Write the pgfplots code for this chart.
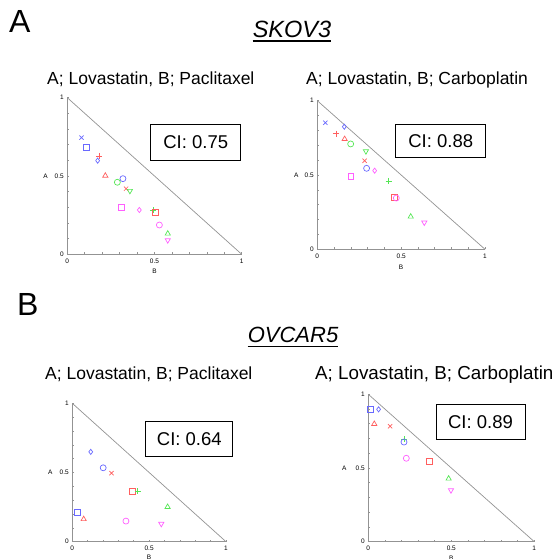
\documentclass[border=0pt]{standalone}
\usepackage{pgfplots}
\pgfplotsset{compat=1.18}
\usepackage{fontspec}
\setmainfont{Liberation Sans}
\definecolor{cb}{RGB}{105,105,255}
\definecolor{cr}{RGB}{255,95,95}
\definecolor{cg}{RGB}{85,230,85}
\definecolor{cm}{RGB}{255,95,255}
\pgfplotsset{
  ci/.style={scale only axis, anchor=south west, clip=false,
    xmin=0,xmax=1,ymin=0,ymax=1,
    axis lines=left, axis line style={-, gray!85, line width=0.6pt},
    xtick={0,0.5,1}, ytick={0,0.5,1},
    minor x tick num=4, minor y tick num=4,
    tick align=inside, major tick length=2pt, minor tick length=2pt,
    tick style={gray!85, line width=0.6pt},
    ticklabel style={font=\fontsize{6.5}{7}\selectfont},
    /pgf/number format/assume math mode=true,
    xlabel={B}, ylabel={A},
    label style={font=\fontsize{6.5}{7}\selectfont},
    xticklabel style={yshift=-1pt},
    mark size=3pt,
  },
  pts/.style={scatter, only marks, scatter src=explicit symbolic,
    mark options={solid, line width=0.7pt, fill=none},
    scatter/classes={
      bx={mark=x, draw=cb}, bs={mark=square, draw=cb}, bd={mark=diamond, mark size=2.6pt, draw=cb}, bo={mark=o, draw=cb},
      rp={mark=+, draw=cr}, rt={mark=triangle, draw=cr}, rx={mark=x, draw=cr}, rs={mark=square, draw=cr},
      go={mark=o, draw=cg}, gd={mark=triangle, rotate=180, draw=cg}, gp={mark=+, draw=cg}, gt={mark=triangle, draw=cg},
      ms={mark=square, mark size=2.9pt, draw=cm}, md={mark=diamond, mark size=2.6pt, draw=cm}, mo={mark=o, draw=cm}, mdt={mark=triangle, rotate=180, draw=cm}}},
  diag/.style={gray!85, line width=0.7pt, no marks},
}
\begin{document}
\begin{tikzpicture}[x=1pt,y=1pt]
\useasboundingbox (0,0) rectangle (559,559);
% ---------- Panel 1 ----------
\begin{axis}[ci, at={(67.3pt,304.7pt)}, width=174.4pt, height=156.6pt,
  xlabel style={at={(axis description cs:0.5,-0.108)}, anchor=center},
  ylabel style={at={(axis description cs:-0.125,0.5)}, anchor=center, rotate=-90}]
\addplot[diag] coordinates {(0,1) (1,0)};
\addplot[pts] table[row sep=\\, meta=c] {
x y c\\
0.082 0.745 bx\\
0.107 0.683 bs\\
0.184 0.628 rp\\
0.174 0.598 bd\\
0.218 0.502 rt\\
0.319 0.483 bo\\
0.287 0.460 go\\
0.337 0.419 rx\\
0.359 0.405 gd\\
0.308 0.302 ms\\
0.413 0.283 md\\
0.491 0.281 gp\\
0.503 0.268 rs\\
0.528 0.187 mo\\
0.576 0.132 gt\\
0.576 0.090 mdt\\
};
\end{axis}
% ---------- Panel 2 ----------
\begin{axis}[ci, at={(317.3pt,309.7pt)}, width=167.7pt, height=148.6pt,
  xlabel style={at={(axis description cs:0.5,-0.12)}, anchor=center},
  ylabel style={at={(axis description cs:-0.125,0.5)}, anchor=center, rotate=-90}]
\addplot[diag] coordinates {(0,1) (1,0)};
\addplot[pts] table[row sep=\\, meta=c] {
x y c\\
0.048 0.852 bx\\
0.161 0.825 bd\\
0.111 0.778 rp\\
0.163 0.742 rt\\
0.199 0.709 go\\
0.290 0.660 gd\\
0.282 0.596 rx\\
0.294 0.545 bo\\
0.342 0.529 md\\
0.200 0.489 ms\\
0.425 0.460 gp\\
0.457 0.352 rs\\
0.471 0.345 mo\\
0.557 0.220 gt\\
0.638 0.180 mdt\\
};
\end{axis}
% ---------- Panel 3 ----------
\begin{axis}[ci, at={(72.3pt,17.3pt)}, width=153.7pt, height=138.4pt,
  xlabel style={at={(axis description cs:0.5,-0.116)}, anchor=center},
  ylabel style={at={(axis description cs:-0.143,0.5)}, anchor=center, rotate=-90}]
\addplot[diag] coordinates {(0,1) (1,0)};
\addplot[pts] table[row sep=\\, meta=c] {
x y c\\
0.120 0.649 bd\\
0.201 0.534 bo\\
0.255 0.495 rx\\
0.393 0.363 rs\\
0.426 0.366 gp\\
0.620 0.251 gt\\
0.036 0.213 bs\\
0.074 0.163 rt\\
0.349 0.149 mo\\
0.579 0.129 mdt\\
};
\end{axis}
% ---------- Panel 4 ----------
\begin{axis}[ci, at={(368.3pt,17.3pt)}, width=166pt, height=147.4pt,
  xlabel style={at={(axis description cs:0.5,-0.115)}, anchor=center},
  ylabel style={at={(axis description cs:-0.145,0.5)}, anchor=center, rotate=-90}]
\addplot[diag] coordinates {(0,1) (1,0)};
\addplot[pts] table[row sep=\\, meta=c] {
x y c\\
0.014 0.898 bs\\
0.062 0.898 bd\\
0.036 0.799 rt\\
0.131 0.783 rx\\
0.217 0.695 gp\\
0.215 0.676 bo\\
0.229 0.566 mo\\
0.365 0.543 rs\\
0.484 0.428 gt\\
0.498 0.349 mdt\\
};
\end{axis}
% ---------- CI boxes ----------
\tikzset{cibox/.style={draw=black, line width=1pt, inner sep=0pt, font=\fontsize{18.5}{19}\selectfont}}
\node[cibox, minimum width=90pt, minimum height=36.7pt] at (195.7,416.4) {CI: 0.75};
\node[cibox, minimum width=90pt, minimum height=33.4pt] at (440.7,418) {CI: 0.88};
\node[cibox, minimum width=86.7pt, minimum height=35pt] at (189.3,119.8) {CI: 0.64};
\node[cibox, minimum width=89pt, minimum height=35pt] at (480.5,136.5) {CI: 0.89};
% ---------- Titles ----------
\node[anchor=base west, inner sep=0pt, font=\fontsize{32}{32}\selectfont] at (9,526.7) {A};
\node[anchor=base west, inner sep=0pt, font=\fontsize{32}{32}\selectfont] at (17,243) {B};
\node (sk) [anchor=base, inner sep=0pt, font=\fontsize{23.5}{24}\selectfont\itshape] at (292,521.3) {SKOV3};
\draw[line width=1.8pt] ([yshift=-3.5pt]sk.base west) -- ([yshift=-3.5pt]sk.base east);
\node (ov) [anchor=base, inner sep=0pt, font=\fontsize{22}{22}\selectfont\itshape] at (293,216) {OVCAR5};
\draw[line width=1.8pt] ([yshift=-3.5pt]ov.base west) -- ([yshift=-3.5pt]ov.base east);
\tikzset{sub/.style={anchor=base west, inner sep=0pt, font=\fontsize{17.5}{18}\selectfont}}
\node[sub] at (47,474) {A; Lovastatin, B; Paclitaxel};
\node[sub] at (306,474) {A; Lovastatin, B; Carboplatin};
\node[sub] at (45,179) {A; Lovastatin, B; Paclitaxel};
\node[sub, font=\fontsize{18.8}{19}\selectfont] at (315,179) {A; Lovastatin, B; Carboplatin};
\end{tikzpicture}
\end{document}
